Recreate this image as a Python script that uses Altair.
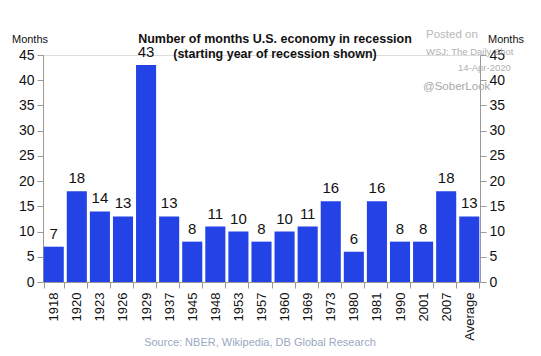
import altair as alt
import pandas as pd

years = ["1918", "1920", "1923", "1926", "1929", "1937", "1945", "1948", "1953",
         "1957", "1960", "1969", "1973", "1980", "1981", "1990", "2001", "2007", "Average"]
months = [7, 18, 14, 13, 43, 13, 8, 11, 10, 8, 10, 11, 16, 6, 16, 8, 8, 18, 13]
y_ticks = [0, 5, 10, 15, 20, 25, 30, 35, 40, 45]

df = pd.DataFrame({"year": years, "months": months})

FONT = "Liberation Sans"
W, H = 437, 227

x_enc = alt.X("year:N", sort=years, title=None,
              scale=alt.Scale(paddingInner=0.13, paddingOuter=0.03),
              axis=alt.Axis(labelAngle=-90, labelFontSize=13, labelColor="#111",
                            labelFont=FONT, tickBand="extent", tickSize=6,
                            tickColor="#999", domainColor="#999", labelPadding=4))
y_scale = alt.Scale(domain=[0, 45], nice=False)

bars = alt.Chart(df).mark_bar(color="#2343E6").encode(
    x=x_enc,
    y=alt.Y("months:Q", scale=y_scale, title=None,
            axis=alt.Axis(values=y_ticks, orient="left", labelFontSize=14, labelFont=FONT,
                          labelColor="#111", tickSize=6, tickColor="#999",
                          domainColor="#999", grid=False, labelPadding=3)),
)

right_axis = alt.Chart(df).mark_bar(opacity=0).encode(
    x=x_enc,
    y=alt.Y("months:Q", scale=y_scale, title=None,
            axis=alt.Axis(values=y_ticks, orient="right", labelFontSize=14, labelFont=FONT,
                          labelColor="#111", tickSize=6, tickColor="#999",
                          domainColor="#999", grid=False, labelPadding=3)),
)

labels = alt.Chart(df).mark_text(dy=-13, fontSize=15, font=FONT, color="#111").encode(
    x=x_enc,
    y=alt.Y("months:Q", scale=y_scale, axis=None),
    text="months:Q",
)

def txt(s, x, y, size, color="#111", bold=False, align="center"):
    return alt.Chart(pd.DataFrame({"t": [s]})).mark_text(
        fontSize=size, font=FONT, color=color, align=align,
        fontWeight="bold" if bold else "normal", baseline="middle"
    ).encode(text="t:N", x=alt.value(x), y=alt.value(y))

annots = [
    txt("Number of months U.S. economy in recession", 232, -16, 12.5, bold=True),
    txt("(starting year of recession shown)", 232, -1, 12.5, bold=True),
    txt("Months", -13, -15, 11),
    txt("Months", 463, -15, 11),
    txt("Posted on", 383, -20, 11.5, color="#b8b8b8", align="left"),
    txt("WSJ: The Daily Shot", 383, -3, 9.5, color="#b0b0b0", align="left"),
    txt("14-Apr-2020", 415, 13, 9.5, color="#b0b0b0", align="left"),
    txt("@SoberLook", 380, 32, 11.5, color="#a8a8a8", align="left"),
    txt("Source: NBER, Wikipedia, DB Global Research", 217, 288, 11, color="#9aa8bf"),
]

chart = alt.layer(bars, right_axis, labels, *annots).resolve_scale(
    y="shared"
).resolve_axis(y="independent").properties(
    width=W, height=H,
    autosize=alt.AutoSizeParams(type="none"),
    padding={"left": 35, "top": 47, "right": 53, "bottom": 66},
).configure_view(stroke=None).configure(background="white")

chart.save("out.html", embed_options={"renderer": "svg", "actions": False})
